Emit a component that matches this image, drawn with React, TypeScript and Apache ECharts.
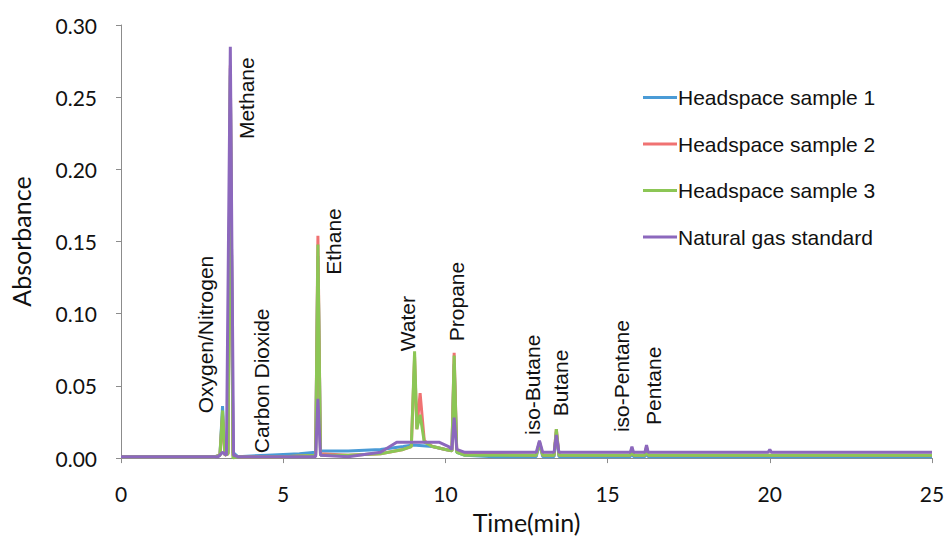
import React, { useEffect, useRef } from "react";
import * as echarts from "echarts";

const seriesNames = ["Headspace sample 1", "Headspace sample 2", "Headspace sample 3", "Natural gas standard"];
const seriesColors = ["#4a9bd6", "#f07272", "#8cc655", "#8c68bd"];

// [time (min), absorbance]
const sample1: number[][] = [
  [0, 0.001], [2.9, 0.001], [3.05, 0.002], [3.13, 0.036], [3.2, 0.003], [3.3, 0.004], [3.37, 0.27], [3.45, 0.004],
  [3.6, 0.001], [4.5, 0.002], [5.5, 0.003], [6.0, 0.004], [6.07, 0.14], [6.15, 0.005], [7.0, 0.005], [8.0, 0.006],
  [8.7, 0.008], [9.0, 0.009], [9.6, 0.008], [10.0, 0.006], [10.2, 0.005], [10.27, 0.065], [10.35, 0.004], [10.6, 0.002],
  [11.5, 0.001], [12.8, 0.001], [12.9, 0.01], [13.0, 0.001], [13.35, 0.001], [13.42, 0.018], [13.5, 0.001],
  [15.7, 0.001], [15.75, 0.006], [15.8, 0.001], [16.15, 0.001], [16.2, 0.007], [16.25, 0.001], [25, 0.001],
];
const sample2: number[][] = [
  [0, 0.001], [2.9, 0.001], [3.05, 0.002], [3.13, 0.03], [3.2, 0.002], [3.3, 0.003], [3.37, 0.272], [3.45, 0.002],
  [3.6, 0.001], [5.0, 0.001], [6.0, 0.002], [6.07, 0.154], [6.15, 0.003], [7.0, 0.002], [8.0, 0.003], [8.7, 0.006],
  [8.95, 0.008], [9.05, 0.07], [9.12, 0.02], [9.22, 0.045], [9.35, 0.012], [9.6, 0.008], [10.0, 0.006], [10.2, 0.005],
  [10.27, 0.073], [10.35, 0.005], [10.6, 0.003], [12.8, 0.002], [12.9, 0.011], [13.0, 0.002], [13.35, 0.002],
  [13.42, 0.02], [13.5, 0.002], [15.7, 0.002], [15.75, 0.007], [15.8, 0.002], [16.15, 0.002], [16.2, 0.008],
  [16.25, 0.002], [25, 0.002],
];
const sample3: number[][] = [
  [0, 0.001], [2.9, 0.001], [3.05, 0.002], [3.13, 0.033], [3.2, 0.002], [3.3, 0.003], [3.37, 0.265], [3.45, 0.0],
  [3.6, 0.001], [5.0, 0.001], [6.0, 0.002], [6.07, 0.148], [6.15, 0.002], [7.0, 0.002], [8.0, 0.003], [8.7, 0.006],
  [8.95, 0.008], [9.05, 0.074], [9.12, 0.02], [9.22, 0.03], [9.35, 0.011], [9.6, 0.008], [10.0, 0.006], [10.2, 0.005],
  [10.27, 0.071], [10.35, 0.004], [10.6, 0.002], [12.8, 0.002], [12.9, 0.011], [13.0, 0.002], [13.35, 0.002],
  [13.42, 0.02], [13.5, 0.002], [15.7, 0.002], [15.75, 0.006], [15.8, 0.002], [16.15, 0.002], [16.2, 0.007],
  [16.25, 0.002], [25, 0.002],
];
const standard: number[][] = [
  [0, 0.001], [3.0, 0.001], [3.13, 0.004], [3.25, 0.002], [3.37, 0.285], [3.47, 0.002], [3.6, 0.001], [6.0, 0.001],
  [6.07, 0.041], [6.15, 0.002], [7.0, 0.001], [8.0, 0.004], [8.5, 0.011], [9.8, 0.011], [10.1, 0.008], [10.2, 0.006],
  [10.27, 0.028], [10.35, 0.006], [10.6, 0.004], [12.8, 0.004], [12.9, 0.012], [13.0, 0.004], [13.35, 0.004],
  [13.42, 0.016], [13.5, 0.004], [15.7, 0.004], [15.75, 0.008], [15.8, 0.004], [16.15, 0.004], [16.2, 0.009],
  [16.25, 0.004], [19.95, 0.004], [20.0, 0.006], [20.05, 0.004], [25, 0.004],
];
const seriesData = [sample1, sample2, sample3, standard];

const peakNames = ["Oxygen/Nitrogen", "Methane", "Carbon Dioxide", "Ethane", "Water", "Propane", "iso-Butane", "Butane", "iso-Pentane", "Pentane"];
const peakLabelTimes = [2.61, 3.87, 4.33, 6.56, 8.83, 10.34, 12.67, 13.56, 15.43, 16.41];
const peakLabelValues = [0.031, 0.221, 0.0034, 0.127, 0.074, 0.081, 0.016, 0.029, 0.018, 0.023];

const xTicks = [0, 5, 10, 15, 20, 25];

const tickFont = "Lato, 'Open Sans', sans-serif";
const textFont = "'Liberation Sans', Arial, sans-serif";

export default function App() {
  const ref = useRef<HTMLDivElement>(null);
  useEffect(() => {
    if (!ref.current) return;
    const chart = echarts.init(ref.current, null, { renderer: "svg" });
    const option: any = {
      animation: false,
      backgroundColor: "#ffffff",
      grid: { left: 117, right: 16, top: 25, bottom: 74, containLabel: false },
      legend: {
        orient: "vertical",
        left: 638,
        top: 82,
        itemGap: 25.5,
        itemWidth: 34,
        itemHeight: 3,
        icon: "rect",
        textStyle: { fontFamily: textFont, fontSize: 21, color: "#111", padding: [0, 0, 0, -4] },
        data: seriesNames,
      },
      xAxis: {
        type: "value",
        min: xTicks[0],
        max: xTicks[xTicks.length - 1],
        interval: 5,
        name: "Time(min)",
        nameLocation: "middle",
        nameGap: 46,
        nameTextStyle: { fontFamily: tickFont, fontSize: 25, color: "#111" },
        axisLine: { lineStyle: { color: "#8c8c8c", width: 1 } },
        axisTick: { show: true, length: 5, inside: false, lineStyle: { color: "#8c8c8c" } },
        axisLabel: { fontFamily: tickFont, fontSize: 21, color: "#111", margin: 25 },
        splitLine: { show: false },
      },
      yAxis: {
        type: "value",
        min: 0,
        max: 0.3,
        interval: 0.05,
        name: "Absorbance",
        nameLocation: "middle",
        nameGap: 88,
        nameTextStyle: { fontFamily: tickFont, fontSize: 25, color: "#111" },
        axisLine: { show: true, lineStyle: { color: "#8c8c8c", width: 1 } },
        axisTick: { show: true, length: 5, inside: false, lineStyle: { color: "#8c8c8c" } },
        axisLabel: { fontFamily: tickFont, fontSize: 21, color: "#111", margin: 24, formatter: (v: number) => v.toFixed(2) },
        splitLine: { show: false },
      },
      series: seriesNames.map((n, i) => ({
        name: n,
        type: "line",
        data: seriesData[i],
        showSymbol: false,
        symbol: "none",
        lineStyle: { color: seriesColors[i], width: 3 },
        itemStyle: { color: seriesColors[i] },
        z: 2 + i,
      })),
    };
    chart.setOption(option);
    const graphics = peakNames.map((name, i) => {
      const p = chart.convertToPixel({ gridIndex: 0 }, [peakLabelTimes[i], peakLabelValues[i]]);
      return {
        type: "text",
        x: p[0],
        y: p[1],
        rotation: Math.PI / 2,
        z: 10,
        style: {
          text: name,
          font: `21px ${textFont}`,
          fill: "#111",
          align: "left",
          verticalAlign: "middle",
        },
      };
    });
    chart.setOption({ graphic: graphics });
    return () => chart.dispose();
  }, []);
  return (
    <div
      ref={ref}
      style={{ position: "fixed", left: 0, top: 0, width: 948, height: 539, overflow: "hidden" }}
    />
  );
}
